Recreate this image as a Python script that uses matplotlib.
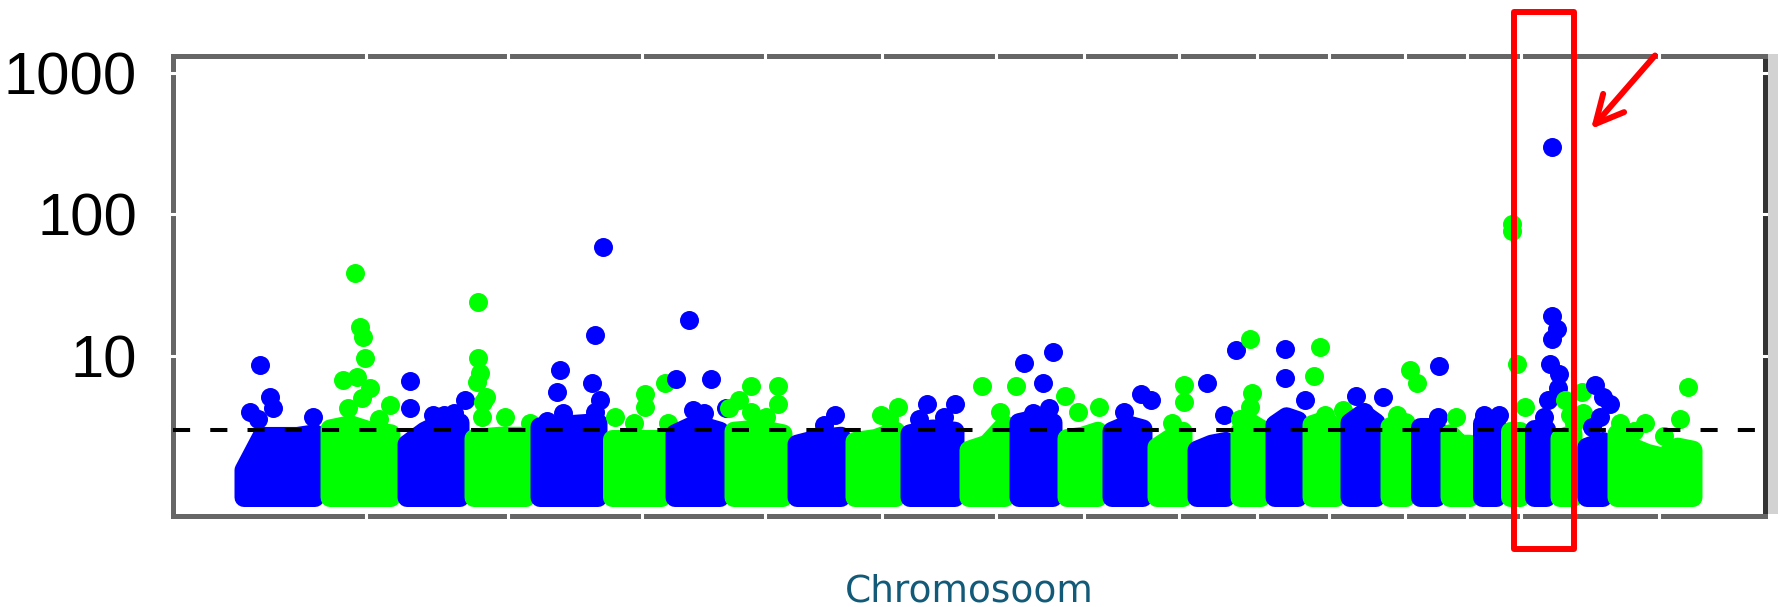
import numpy as np
import matplotlib
matplotlib.use("Agg")
import matplotlib.pyplot as plt
from matplotlib.patches import Polygon, Rectangle, FancyArrowPatch
from matplotlib.transforms import blended_transform_factory
from matplotlib.ticker import NullLocator, FixedLocator

plt.rcParams["font.family"] = ["Liberation Sans", "DejaVu Sans"]

# ---------------- data ----------------
# chromosome extents along the genome axis (position units)
chrom_start = [63, 149, 226, 293, 359, 431, 494, 553, 616, 674, 729, 788, 838, 886, 931,
               976, 1016, 1059, 1094, 1131, 1169, 1209, 1239, 1269, 1301, 1329, 1353, 1379, 1406, 1436]
chrom_end = [148, 224, 293, 359, 431, 494, 553, 616, 674, 729, 788, 838, 886, 931, 976,
             1016, 1059, 1094, 1131, 1169, 1209, 1239, 1269, 1303, 1329, 1353, 1379, 1406, 1436, 1526]

# upper envelope of the dense cloud of markers per chromosome (values, left to right)
body_top = [
    [1.56, 2.7, 2.7, 2.7, 2.82],
    [3.05, 3.27, 2.94, 2.82],
    [2.38, 2.94, 3.38, 3.38],
    [2.61, 2.71, 2.71],
    [3.16, 3.27, 3.38],
    [2.61, 2.61, 2.61],
    [2.82, 3.16, 3.16, 2.94],
    [2.94, 3.05, 2.82],
    [2.38, 2.61, 2.71],
    [2.49, 2.61, 2.94],
    [2.82, 3.05, 2.94],
    [2.16, 2.38, 3.27],
    [3.38, 3.6, 3.38],
    [2.61, 2.71, 2.94],
    [2.94, 3.27, 3.05],
    [2.27, 2.61, 2.94],
    [2.16, 2.38, 2.49],
    [2.94, 3.38, 3.05],
    [3.27, 3.72, 3.49],
    [3.27, 3.49, 3.16],
    [3.38, 3.93, 3.38],
    [3.16, 3.38],
    [3.16, 3.16],
    [2.82, 2.38, 2.38],
    [3.38, 3.38],
    [2.94, 2.94],
    [3.05, 3.05],
    [2.61, 2.82],
    [2.27, 2.49],
    [2.82, 2.27, 2.05, 1.93, 2.27, 2.16],
]
body_bottom = 1.0

# individual markers above the dense cloud: chromosome number, position, value
pt_chrom = ([1]*6 + [2]*11 + [3]*6 + [4]*9 + [5]*9 + [6]*6 + [7]*6 + [8]*7 + [9]*2 + [10]*3 +
            [11]*4 + [12]*3 + [13]*5 + [14]*3 + [15]*3 + [16]*3 + [17]*3 + [18]*4 + [19]*3 +
            [20]*4 + [21]*3 + [22]*3 + [23]*2 + [24]*1 + [25]*2 + [26]*4 + [27]*9 + [28]*5 +
            [29]*5 + [30]*6)
pt_pos = [76, 86, 96, 99, 139, 84,
          181, 186, 189, 191, 169, 183, 196, 188, 174, 216, 205,
          236, 236, 291, 259, 270, 280,
          304, 304, 306, 303, 309, 308, 331, 356, 312,
          429, 421, 386, 383, 418, 426, 389, 373, 421,
          471, 471, 441, 491, 494, 460,
          515, 502, 537, 552, 519, 530,
          577, 604, 565, 604, 555, 577, 592,
          661, 650,
          724, 707, 715,
          753, 781, 745, 770,
          808, 842, 826,
          850, 879, 869, 859, 875,
          891, 904, 925,
          950, 967, 977,
          1010, 1010, 998,
          1033, 1062, 1050,
          1076, 1078, 1076, 1066,
          1111, 1111, 1131,
          1146, 1140, 1151, 1169,
          1182, 1209, 1190,
          1236, 1243, 1223,
          1265, 1264,
          1282,
          1310, 1325,
          1338, 1338, 1343, 1351,
          1378, 1378, 1383, 1378, 1376, 1385, 1384, 1374, 1370,
          1391, 1408, 1409, 1396, 1400,
          1421, 1429, 1436, 1426, 1418,
          1514, 1471, 1506, 1446, 1460, 1490]
pt_val = [4.04, 8.64, 5.14, 4.26, 3.72, 3.6,
          38.6, 16.0, 13.6, 9.72, 6.78, 7.11, 5.91, 5.03, 4.26, 4.48, 3.6,
          6.67, 4.26, 4.92, 3.82, 3.82, 3.93,
          24.1, 9.72, 7.55, 6.57, 4.70, 3.72, 3.72, 3.38, 5.14,
          58.8, 14.1, 7.98, 5.58, 6.46, 4.92, 3.93, 3.49, 4.04,
          5.36, 4.37, 3.72, 6.46, 3.38, 3.38,
          17.9, 6.89, 6.89, 4.26, 4.15, 3.93,
          6.13, 6.13, 4.92, 4.59, 4.26, 4.04, 3.72,
          3.82, 3.27,
          4.37, 3.82, 3.6,
          4.59, 4.59, 3.6, 3.72,
          6.13, 6.13, 4.04,
          8.86, 10.6, 6.46, 3.93, 4.26,
          5.25, 4.04, 4.37,
          4.04, 5.36, 4.92,
          6.24, 4.70, 3.38,
          6.46, 11.0, 3.82,
          13.2, 5.47, 4.37, 3.6,
          11.2, 7.0, 4.92,
          11.6, 7.23, 3.82, 4.15,
          5.25, 5.14, 4.04,
          7.98, 6.46, 3.82,
          8.53, 3.72,
          3.72,
          3.82, 3.82,
          85.0, 76.6, 8.75, 4.37,
          298.0, 19.1, 15.4, 13.2, 8.75, 7.45, 5.91, 4.92, 3.72,
          4.92, 5.58, 3.93, 3.82, 3.38,
          6.24, 5.14, 4.59, 3.72, 3.16,
          6.02, 3.38, 3.6, 3.38, 2.94, 2.71]

threshold = 3.0
y_ticks = [10, 100, 1000]
y_ticklabels = ["10", "100", "1000"]
x_ticks = [192, 334, 468, 591, 708, 822, 910, 1005, 1083, 1155, 1231, 1293, 1347, 1401, 1485]
x_label = "Chromosoom"
highlight_span = (1340.5, 1400.0)

chrom_colors = ["#0000ff", "#00ff00"]

# ---------------- figure ----------------
W, H, DPI = 1781, 607, 100
fig = plt.figure(figsize=(W / DPI, H / DPI), dpi=DPI)
fig.patch.set_facecolor("white")
ax = fig.add_axes([173 / W, (H - 516) / H, (1765 - 173) / W, (516 - 56) / H])
ax.set_yscale("log")
ax.set_xlim(-1, 1591)
ax.set_ylim(0.74, 1318)

marker_px = 19
marker_pt = marker_px * 72 / DPI
inset = 7  # x data units are ~1 px

for i, (s, e, tops) in enumerate(zip(chrom_start, chrom_end, body_top)):
    col = chrom_colors[i % 2]
    xs = np.linspace(s + inset, e - inset, len(tops))
    verts = [(xs[0], body_bottom)] + list(zip(xs, tops)) + [(xs[-1], body_bottom)]
    poly = Polygon(verts, closed=True, facecolor=col, edgecolor=col,
                   linewidth=marker_pt, joinstyle="round", zorder=2 + i * 0.01)
    ax.add_patch(poly)
    sel = [k for k, c in enumerate(pt_chrom) if c == i + 1]
    ax.scatter([pt_pos[k] for k in sel], [pt_val[k] for k in sel], s=marker_pt ** 2,
               color=col, linewidths=0, zorder=2 + i * 0.01 + 0.005)

ax.axhline(threshold, color="black", lw=2.9,
           linestyle=(0, (4.25, 5.0)), zorder=5)

# axes styling
for name, sp in ax.spines.items():
    sp.set_linewidth(3.6)
    sp.set_color("#666666")
ax.spines["right"].set_color("#333333")

ax.yaxis.set_major_locator(FixedLocator(y_ticks))
ax.yaxis.set_minor_locator(NullLocator())
ax.set_yticklabels(y_ticklabels, fontfamily="Liberation Sans", color="black")
ax.set_xticks(x_ticks)
ax.set_xticklabels([])
ax.tick_params(axis="both", which="major", direction="inout", length=6, width=2.2,
               color="white", top=True, right=True, labelright=False, labeltop=False)
ax.tick_params(axis="y", labelsize=43, pad=23)
ax.xaxis.set_zorder(3)
ax.yaxis.set_zorder(3)

# light grey shadow strip right of the frame
fig.add_artist(Rectangle((1768 / W, (H - 514) / H), 10 / W, (514 - 54) / H,
                         transform=fig.transFigure, facecolor="#d2d2d2", edgecolor="none"))

fig.text(969.5 / W, (H - 602) / H, x_label, ha="center", va="baseline",
         fontsize=27, color="#135a79", family="DejaVu Sans")

# red highlight box and arrow
trans = blended_transform_factory(ax.transData, fig.transFigure)
rect = Rectangle((highlight_span[0], (H - 549) / H), highlight_span[1] - highlight_span[0],
                 (549 - 11.5) / H, transform=trans, facecolor="none", edgecolor="#ff0000",
                 linewidth=4.3, joinstyle="round", clip_on=False, zorder=10)
fig.add_artist(rect)
arrow = FancyArrowPatch((1655 / W, (H - 55.5) / H), (1591 / W, (H - 129) / H),
                        transform=fig.transFigure,
                        arrowstyle="->,head_length=20,head_width=10",
                        mutation_scale=1, color="#ff0000", linewidth=4.3,
                        capstyle="round", joinstyle="round", shrinkA=0, shrinkB=0, zorder=10)
fig.add_artist(arrow)

fig.savefig("out.png", dpi=DPI)
